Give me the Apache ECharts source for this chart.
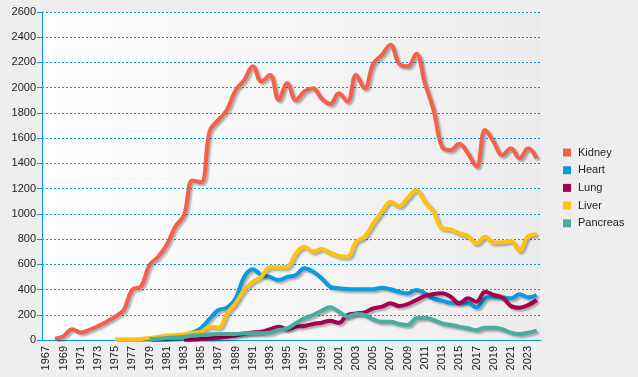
<!DOCTYPE html>
<html>
<head>
<meta charset="utf-8">
<script src="https://cdn.jsdelivr.net/npm/echarts@6/dist/echarts.min.js"></script>
<style>
  html, body { margin: 0; padding: 0; background: #eeeeee; }
  #chart { width: 638px; height: 377px; }
</style>
</head>
<body>
<div id="chart"></div>
<script>
// years 1967 - 2024
var years = [];
for (var y = 1967; y <= 2024; y++) years.push(String(y));

// 1968 - 2024
var kidney = [10, 30, 85, 60, 80, 110, 145, 185, 240, 400, 425, 595, 660, 755, 900, 990, 1265, 1250,
  1660, 1745, 1825, 1980, 2060, 2170, 2050, 2100, 1905, 2035, 1900, 1970, 1995, 1915, 1870, 1955, 1890,
  2100, 1995, 2190, 2260, 2340, 2190, 2170, 2270, 2035, 1825, 1530, 1505, 1555, 1480, 1375, 1665, 1570,
  1465, 1520, 1440, 1520, 1440];
// 1979 - 2024
var heart = [5, 10, 20, 30, 40, 60, 95, 170, 238, 256, 330, 500, 560, 515, 500, 476, 500, 515, 568, 542,
  490, 423, 410, 404, 402, 402, 402, 415, 402, 383, 370, 396, 370, 330, 312, 296, 296, 296, 259, 330, 343,
  338, 330, 362, 338, 357];
// 1983 - 2024
var lung = [2, 4, 8, 12, 18, 25, 35, 50, 60, 66, 85, 106, 87, 106, 111, 127, 137, 153, 137, 198, 211, 219,
  251, 264, 291, 270, 285, 317, 349, 365, 370, 343, 291, 330, 304, 383, 357, 338, 270, 256, 277, 317];
// 1975 - 2024
var liver = [5, 5, 5, 8, 15, 25, 35, 40, 45, 58, 66, 106, 98, 211, 291, 396, 462, 502, 576, 576, 581, 687,
  740, 700, 721, 692, 666, 660, 779, 819, 925, 1017, 1096, 1062, 1125, 1190, 1096, 1017, 885, 877, 846,
  824, 766, 819, 772, 774, 785, 708, 824, 838];
// 1979 - 2024
var pancreas = [5, 10, 15, 20, 25, 35, 40, 45, 48, 48, 48, 53, 53, 53, 58, 79, 93, 132, 172, 198, 232, 259,
  224, 185, 206, 198, 164, 145, 145, 127, 119, 172, 177, 159, 132, 119, 106, 93, 79, 98, 98, 85, 58, 48,
  58, 74];

var names = ['Kidney', 'Heart', 'Lung', 'Liver', 'Pancreas'];
var colors = ['#f5604a', '#0a9ade', '#a6004f', '#ffc20e', '#4aab9f'];

// pad a series so it starts at the right year
function pad(startYear, values) {
  var out = [];
  for (var i = 1967; i < startYear; i++) out.push(null);
  return out.concat(values);
}

var chart = echarts.init(document.getElementById('chart'));

var seriesData = [pad(1968, kidney), pad(1979, heart), pad(1983, lung), pad(1975, liver), pad(1979, pancreas)];

var option = {
  backgroundColor: '#eeeeee',
  animation: false,
  textStyle: { fontFamily: 'Liberation Sans, Arial, sans-serif' },
  grid: {
    left: 42, right: 97, top: 12, bottom: 37,
    show: true,
    borderWidth: 0,
    backgroundColor: new echarts.graphic.LinearGradient(0, 0, 1, 0, [
      { offset: 0, color: '#ffffff' },
      { offset: 1, color: '#ececec' }
    ])
  },
  legend: {
    orient: 'vertical',
    left: 558, top: 142,
    itemWidth: 8, itemHeight: 8,
    itemGap: 6.7,
    icon: 'rect',
    textStyle: { fontSize: 11, color: '#222', padding: [0, 0, 0, 2] },
    data: names.map(function (n, i) { return { name: n, itemStyle: { color: colors[i] } }; })
  },
  xAxis: {
    type: 'category',
    data: years,
    boundaryGap: true,
    axisLine: { lineStyle: { color: '#0099dd', width: 1 } },
    axisTick: { alignWithLabel: true, interval: 1, length: 5, lineStyle: { color: '#0099dd' } },
    axisLabel: { interval: 1, rotate: 90, fontSize: 11, color: '#222', margin: 6 }
  },
  yAxis: {
    type: 'value',
    min: 0, max: 2600, interval: 200,
    axisLine: { show: true, lineStyle: { color: '#0099dd', width: 1 } },
    axisTick: { show: true, length: 5, lineStyle: { color: '#0099dd' } },
    axisLabel: { fontSize: 11, color: '#222', margin: 6, formatter: function (v) { return String(v); } },
    splitLine: { lineStyle: { color: '#0099dd', type: [2, 2], width: 1 } }
  },
  series: names.map(function (n, i) {
    return {
      name: n,
      type: 'line',
      data: seriesData[i],
      smooth: 0.4,
      showSymbol: false,
      symbol: 'none',
      connectNulls: false,
      itemStyle: { color: colors[i] },
      lineStyle: {
        width: 4,
        color: colors[i],
        shadowColor: 'rgba(0,0,0,0.3)',
        shadowBlur: 2,
        shadowOffsetX: 2,
        shadowOffsetY: 2
      }
    };
  })
};

chart.setOption(option);
</script>
</body>
</html>
